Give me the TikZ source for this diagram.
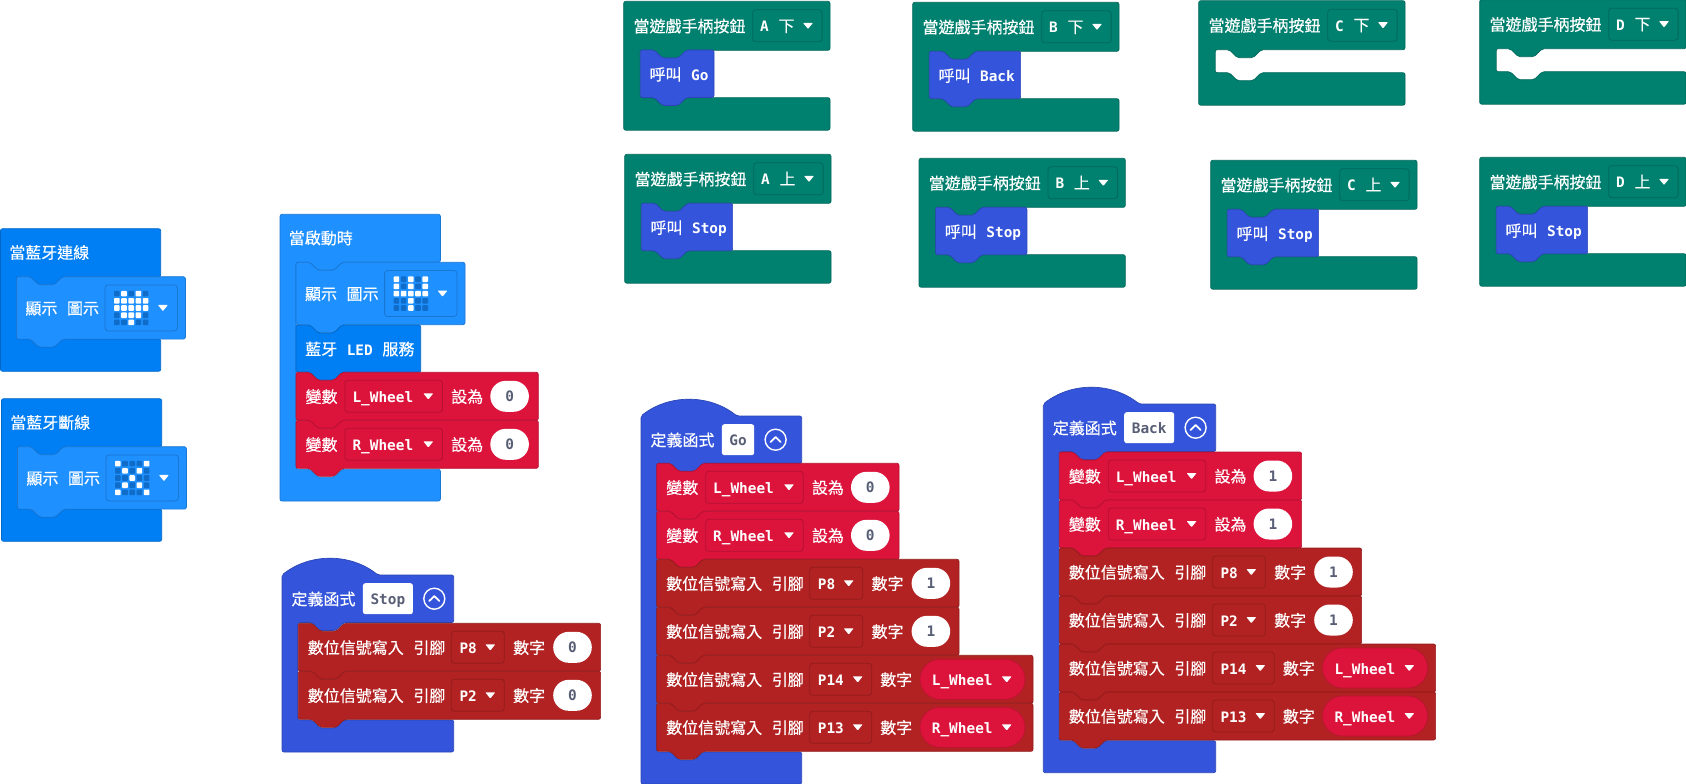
\documentclass[tikz,border=0pt]{standalone}
\usepackage{fontspec}
\setmainfont{Noto Sans CJK TC}[FakeBold=0.35]
\setmonofont{DejaVu Sans Mono}
\usetikzlibrary{positioning,shapes.misc}

\definecolor{btblue}{HTML}{007EF4}
\definecolor{basicblue}{HTML}{1E90FF}
\definecolor{ledoff}{HTML}{0F6CC8}
\definecolor{varred}{HTML}{DC143C}
\definecolor{pinred}{HTML}{B22222}
\definecolor{fnblue}{HTML}{3455DB}
\definecolor{padgreen}{HTML}{00806F}
\definecolor{slate}{HTML}{575E75}

\newcommand{\labelfont}{\fontsize{16}{18}\selectfont\rmfamily\mdseries\spaceskip=9.6pt\relax}
\newcommand{\codefont}{\fontsize{14.4}{16}\selectfont\ttfamily\bfseries\spaceskip=9.6pt\relax}

\newcommand{\cbody}[5]{-- (#1,0) -- (#1,#2) -- (#3+46,#2) -- (#3+38,#2+8) -- (#3+22,#2+8) -- (#3+14,#2) -- (#3,#2)
  -- (#3,#4) -- (#3+14,#4) -- (#3+22,#4+8) -- (#3+38,#4+8) -- (#3+46,#4) -- (#1,#4) -- (#1,#5) -- (0,#5) -- cycle}

\newcommand{\ddarrow}[2]{\fill[white,rounded corners=.7pt] (#1-5,#2-3) -- (#1+5,#2-3) -- (#1,#2+3.2) -- cycle;}

\newcommand{\stackblock}[5]{\begin{scope}[shift={(#1,#2)}]
  \draw[bk=#5] (0,0) -- (14,0) -- (22,8) -- (38,8) -- (46,0) -- (#3,0) -- (#3,#4) -- (46,#4) -- (38,#4+8)
    -- (22,#4+8) -- (14,#4) -- (0,#4) -- cycle;
\end{scope}}

\newcommand{\varrow}[5]{\stackblock{#2}{#3}{242.3}{48}{varred}
  \begin{scope}[shift={(#2,#3)}]
    \node[lbl] (#1-a) at (9.3,24) {變數};
    \node[fld=varred,minimum width=97.5pt] (#1-d) at (48.6,24) {};
    \node[code] (#1-v) at (56.3,24) {#4};
    \ddarrow{132.3}{24}
    \node[lbl] (#1-b) at (155,24) {設為};
    \node[numpill] (#1-n) at (213.6,24) {#5};
  \end{scope}}

\newcommand{\pinrow}[5]{\stackblock{#2}{#3}{302.3}{48}{pinred}
  \begin{scope}[shift={(#2,#3)}]
    \node[lbl] (#1-a) at (9.3,24) {數位信號寫入 引腳};
    \node[fld=pinred,minimum width=53pt] (#1-d) at (152.6,24) {};
    \node[code] (#1-v) at (161,24) {#4};
    \ddarrow{192}{24}
    \node[lbl] (#1-b) at (214.6,24) {數字};
    \node[numpill] (#1-n) at (274.2,24) {#5};
  \end{scope}}

\newcommand{\pinvarrow}[5]{\stackblock{#2}{#3}{376.3}{48}{pinred}
  \begin{scope}[shift={(#2,#3)}]
    \node[lbl] (#1-a) at (9.3,24) {數位信號寫入 引腳};
    \node[fld=pinred,minimum width=62pt] (#1-d) at (152.6,24) {};
    \node[code] (#1-v) at (161,24) {#4};
    \ddarrow{201}{24}
    \node[lbl] (#1-b) at (223.3,24) {數字};
    \node[varpill] (#1-p) at (315.8,24) {};
    \node[code] (#1-w) at (275,24) {#5};
    \ddarrow{350}{24}
  \end{scope}}

\newcommand{\showrow}[4]{\stackblock{#2}{#3}{169}{62.4}{basicblue}
  \begin{scope}[shift={(#2,#3)}]
    \node[lbl] (#1-a) at (8.8,31.2) {顯示 圖示};
    \node[fld=basicblue,minimum width=72.4pt,minimum height=46pt] (#1-d) at (88.2,31.2) {};
    \foreach \bits [count=\rr from 0] in {#4} {
      \foreach \bb [count=\cc from 0] in \bits {
        \ifnum\bb=1 \def\ledc{white}\else\def\ledc{ledoff}\fi
        \fill[fill=\ledc,rounded corners=.8pt] (97.6+\cc*7.2,14.1+\rr*7.2) rectangle +(5.6,5.6);
      }
    }
    \ddarrow{146.5}{31.2}
  \end{scope}}

\newcommand{\padblock}[6]{\begin{scope}[shift={(#2,#3)}]
  \draw[bk=padgreen] (0,0) \cbody{206.3}{49}{16.5}{49+#6}{49+#6+32.5};
  \node[lbl] (#1-a) at (9.6,24.5) {當遊戲手柄按鈕};
  \node[fld=padgreen,minimum width=69.4pt] (#1-d) at (128.6,24.5) {};
  \node[code] (#1-v) at (136.3,24.5) {#4 {\labelfont #5}};
  \ddarrow{184.3}{24.5}
\end{scope}}

\newcommand{\callrow}[5]{\stackblock{#2}{#3}{#5}{47.4}{fnblue}
  \node[lbl] (#1-a) at (#2+9,#3+24) {呼叫 #4};}

\newcommand{\fnblock}[7]{\begin{scope}[shift={(#2,#3)}]
  \draw[bk=fnblue] (0,0) .. controls (28,-22) and (68,-22) .. (96,0) \cbody{#6}{47.5}{15.8}{#7}{#7+32};
  \node[lbl] (#1-a) at (9.3,23.7) {定義函式};
  \node[namebox,minimum width=#5] (#1-b) at (80.7,23.7) {#4};
  \node[btn,right=10pt of #1-b] (#1-c) {};
  \draw[white,line width=1.8pt,line cap=round,line join=round] ([shift={(-5,2.2)}]#1-c.center) -- ([shift={(0,-2.6)}]#1-c.center) -- ([shift={(5,2.2)}]#1-c.center);
\end{scope}}

\begin{document}
\begin{tikzpicture}[x=1pt,y=-1pt,
  bk/.style={fill=#1,draw=#1!82!black,line width=.7pt,rounded corners=2pt},
  lbl/.style={anchor=base west,inner sep=0pt,yshift=-6.4pt,text=white,font=\labelfont},
  code/.style={anchor=base west,inner sep=0pt,yshift=-6pt,text=white,font=\codefont},
  fld/.style={anchor=west,draw=#1!82!black,line width=.8pt,rounded corners=3pt,inner sep=0pt,minimum height=32pt},
  numpill/.style={rounded rectangle,fill=white,inner sep=0pt,minimum width=38.6pt,minimum height=31pt,text height=11pt,text depth=0pt,text=slate,font=\codefont},
  varpill/.style={rounded rectangle,fill=varred,draw=varred!85!black,line width=.6pt,inner sep=0pt,minimum width=105pt,minimum height=40pt},
  namebox/.style={anchor=west,fill=white,rounded corners=2.5pt,inner sep=0pt,minimum height=31pt,text height=11pt,text depth=0pt,text=slate,font=\codefont},
  btn/.style={circle,draw=white,line width=1.4pt,inner sep=0pt,minimum size=21pt}]

  \useasboundingbox (0,0) rectangle (1686,784);

%bluetooth blocks
  \begin{scope}[shift={(0.5,228.7)}]
    \draw[bk=btblue] (0,0) \cbody{160.2}{48}{15.9}{110.3}{142.6};
    \node[lbl] (conn) at (8.5,23.5) {當藍牙連線};
  \end{scope}
  \showrow{connshow}{16.4}{276.7}{{0,1,0,1,0},{1,1,1,1,1},{1,1,1,1,1},{0,1,1,1,0},{0,0,1,0,0}}

  \begin{scope}[shift={(1.5,398.7)}]
    \draw[bk=btblue] (0,0) \cbody{160.2}{48}{15.9}{110.3}{142.6};
    \node[lbl] (disc) at (8.5,23.5) {當藍牙斷線};
  \end{scope}
  \showrow{discshow}{17.4}{446.7}{{1,0,0,0,1},{0,1,0,1,0},{0,0,1,0,0},{0,1,0,1,0},{1,0,0,0,1}}

%start block
  \begin{scope}[shift={(280,214.3)}]
    \draw[bk=basicblue] (0,0) \cbody{160.4}{48}{16}{255}{286.7};
    \node[lbl] (start) at (8.6,23.4) {當啟動時};
  \end{scope}
  \showrow{startshow}{296}{262.3}{{1,0,1,0,1},{1,0,1,0,1},{1,1,1,1,1},{0,0,1,0,0},{0,0,1,0,0}}
  \stackblock{296}{325}{124.7}{47.3}{btblue}
  \node[lbl] (led) at (305,348.7) {藍牙 {\codefont LED} 服務};
  \varrow{startl}{296}{372.3}{L\_Wheel}{0}
  \varrow{startr}{296}{420.3}{R\_Wheel}{0}

%gamepad blocks
  \padblock{pada}{623.7}{1.3}{A}{下}{47.4}
  \callrow{calla}{640.3}{50}{{\codefont Go}}{73.7}
  \padblock{padab}{624.7}{154.3}{A}{上}{47.4}
  \callrow{callab}{641.3}{203.3}{{\codefont Stop}}{91.3}
  \padblock{padb}{912.7}{2.3}{B}{下}{47.4}
  \callrow{callb}{929.3}{51.3}{{\codefont Back}}{91.3}
  \padblock{padbb}{919}{158.3}{B}{上}{47.4}
  \callrow{callbb}{935.6}{207.3}{{\codefont Stop}}{91.3}
  \padblock{padc}{1198.7}{0.7}{C}{下}{23}
  \padblock{padcb}{1210.7}{160.3}{C}{上}{47.4}
  \callrow{callcb}{1227.3}{209.3}{{\codefont Stop}}{91.3}
  \padblock{padd}{1479.7}{-0.3}{D}{下}{23}
  \padblock{paddb}{1479.7}{157.3}{D}{上}{47.4}
  \callrow{calldb}{1496.3}{206.3}{{\codefont Stop}}{91.3}

%function Stop
  \fnblock{stop}{282}{575}{Stop}{50pt}{171.7}{145}
  \pinrow{stopa}{298.3}{623.3}{P8}{0}
  \pinrow{stopb}{298.3}{671.3}{P2}{0}

%function Go
  \fnblock{go}{641}{416}{Go}{32.3pt}{160.7}{336}
  \varrow{gol}{656.7}{463.3}{L\_Wheel}{0}
  \varrow{gor}{656.7}{511.3}{R\_Wheel}{0}
  \pinrow{goa}{656.7}{559.3}{P8}{1}
  \pinrow{gob}{656.7}{607.3}{P2}{1}
  \pinvarrow{goc}{656.7}{655.3}{P14}{L\_Wheel}
  \pinvarrow{god}{656.7}{703.3}{P13}{R\_Wheel}

%function Back
  \fnblock{back}{1043.3}{404}{Back}{50pt}{172.4}{336.7}
  \varrow{backl}{1059.3}{452}{L\_Wheel}{1}
  \varrow{backr}{1059.3}{500}{R\_Wheel}{1}
  \pinrow{backa}{1059.3}{548}{P8}{1}
  \pinrow{backb}{1059.3}{596}{P2}{1}
  \pinvarrow{backc}{1059.3}{644}{P14}{L\_Wheel}
  \pinvarrow{backd}{1059.3}{692}{P13}{R\_Wheel}

\end{tikzpicture}
\end{document}
